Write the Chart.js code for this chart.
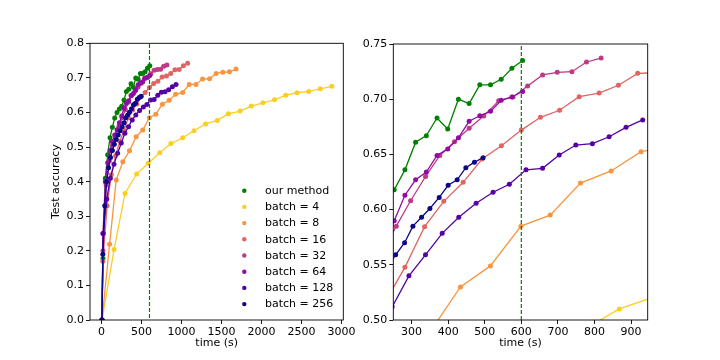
<!DOCTYPE html>
<html><head><meta charset="utf-8">
<script src="https://cdn.jsdelivr.net/npm/chart.js@4.4.1/dist/chart.umd.min.js"></script>
<style>
html,body{margin:0;padding:0;background:#fff;}
#wrap{position:relative;width:720px;height:360px;overflow:hidden;}
.box{position:absolute;top:0;width:360px;height:360px;}
</style></head><body>
<div id="wrap">
<div class="box" style="left:0"><canvas id="c1" width="360" height="360"></canvas></div>
<div class="box" style="left:360px"><canvas id="c2" width="360" height="360"></canvas></div>
</div>
<script>
// ---- data ----
const seriesLabels = ["our method", "batch = 4", "batch = 8", "batch = 16", "batch = 32", "batch = 64", "batch = 128", "batch = 256"];
const seriesColors = ["#008000", "#fcce25", "#f89540", "#e16462", "#bf3984", "#8f0da4", "#5402a3", "#0d0887"];

const oursTime = [6, 18.5, 47.8, 77, 106.3, 135.5, 164.8, 194, 223.3, 252.5, 281.8, 311, 340.3, 369.5, 398.8, 428, 457.3, 486.5, 515.8, 545, 574.3, 603.5];
const oursAcc  = [0, 0.178, 0.41, 0.478, 0.527, 0.557, 0.584, 0.600, 0.610, 0.618, 0.636, 0.661, 0.667, 0.683, 0.673, 0.700, 0.696, 0.713, 0.713, 0.718, 0.728, 0.735];

const b4Time = [6, 157, 294, 439, 584, 729, 868, 1015, 1156, 1301, 1447, 1587, 1733, 1873, 2019, 2164, 2305, 2445, 2591, 2736, 2880];
const b4Acc  = [0, 0.204, 0.366, 0.422, 0.453, 0.4835, 0.51, 0.527, 0.547, 0.567, 0.577, 0.596, 0.604, 0.6185, 0.628, 0.6367, 0.650, 0.657, 0.661, 0.6685, 0.6755];

const b8Time = [6, 101, 184, 267, 350, 433.6, 515.4, 599, 679, 761.7, 845.5, 927.3, 1015, 1098, 1181, 1264, 1351, 1434, 1517, 1600, 1683];
const b8Acc  = [0, 0.219, 0.405, 0.4575, 0.489, 0.530, 0.549, 0.585, 0.595, 0.624, 0.635, 0.6525, 0.658, 0.681, 0.681, 0.6965, 0.6975, 0.713, 0.716, 0.7177, 0.7254];

const b16Time = [6, 16.7, 69.7, 122.7, 175.7, 228.7, 281.7, 335.5, 388, 441, 492.8, 545.5, 600, 652.3, 704.6, 758.2, 812.7, 865.4, 918.2, 971, 1024, 1077];
const b16Acc  = [0, 0.17, 0.33, 0.42, 0.475, 0.517, 0.5477, 0.5845, 0.6075, 0.6247, 0.6458, 0.6579, 0.672, 0.6836, 0.690, 0.7023, 0.7056, 0.7126, 0.7234, 0.724, 0.735, 0.742];

const b32Time = [6, 18.2, 58.2, 98.2, 138.2, 178.2, 218.2, 258.2, 297.3, 338.2, 377.2, 417.3, 457.3, 497.2, 538.2, 577.3, 617.2, 658.2, 698.2, 738.3, 778.2, 818.2];
const b32Acc  = [0, 0.2, 0.39, 0.46, 0.505, 0.535, 0.56, 0.585, 0.608, 0.630, 0.649, 0.6615, 0.6736, 0.6848, 0.6986, 0.702, 0.712, 0.722, 0.7243, 0.7249, 0.7337, 0.7373];

const b64Time = [6, 18.5, 47.8, 77, 106.3, 135.5, 164.8, 194, 223.3, 252.5, 281.8, 311, 340.3, 369.5, 398.8, 428, 457.3, 486.5, 515.8, 545, 574.3, 603.5];
const b64Acc  = [0, 0.25, 0.40, 0.455, 0.49, 0.515, 0.535, 0.55, 0.57, 0.59, 0.613, 0.627, 0.634, 0.649, 0.655, 0.665, 0.680, 0.685, 0.689, 0.699, 0.702, 0.707];

const b128Time = [6, 19.6, 65, 110.6, 156, 201.6, 247, 292.7, 338, 383.7, 429, 476.4, 522.8, 567.3, 612.8, 658, 703.6, 749, 794.3, 840, 886.3, 931.8];
const b128Acc  = [0, 0.25, 0.35, 0.41, 0.45, 0.482, 0.512, 0.540, 0.559, 0.5785, 0.593, 0.6057, 0.6157, 0.6229, 0.636, 0.6374, 0.6495, 0.6585, 0.6597, 0.666, 0.6745, 0.6812];

const b256Time = [6, 16.4, 40.4, 64.4, 88.4, 112.4, 136.4, 160.4, 184.4, 208.4, 232.4, 256.4, 280.9, 303.6, 327.3, 350, 375.5, 400, 424.6, 448.3, 471.8, 495.5];
const b256Acc  = [0, 0.19, 0.33, 0.40, 0.44, 0.47, 0.49, 0.508, 0.522, 0.535, 0.547, 0.559, 0.570, 0.585, 0.593, 0.601, 0.611, 0.622, 0.627, 0.638, 0.643, 0.647];

const budgetTime = 600;
const leftXTicks = [0, 500, 1000, 1500, 2000, 2500, 3000];
const leftYTicks = [0, 0.1, 0.2, 0.3, 0.4, 0.5, 0.6, 0.7, 0.8];
const rightXTicks = [300, 400, 500, 600, 700, 800, 900];
const rightYTicks = [0.50, 0.55, 0.60, 0.65, 0.70, 0.75];

const allTimes = [oursTime, b4Time, b8Time, b16Time, b32Time, b64Time, b128Time, b256Time];
const allAccs  = [oursAcc, b4Acc, b8Acc, b16Acc, b32Acc, b64Acc, b128Acc, b256Acc];

// ---- chart setup ----
Chart.defaults.font.family = '"DejaVu Sans", sans-serif';
Chart.defaults.font.size = 11;
Chart.defaults.color = '#000';

function buildDatasets(yLo, yHi) {
  const ds = allTimes.map((ts, i) => ({
    label: seriesLabels[i],
    data: ts.map((t, j) => ({x: t, y: allAccs[i][j]})),
    showLine: true,
    borderColor: seriesColors[i],
    backgroundColor: seriesColors[i],
    borderWidth: 1.3,
    pointRadius: 2.5,
    pointBorderWidth: 0,
    pointHoverRadius: 2.5,
    tension: 0,
    clip: 0,
    order: 10 - i
  }));
  ds.push({
    label: 'budget',
    data: [{x: budgetTime, y: yLo}, {x: budgetTime, y: yHi}],
    showLine: true,
    borderColor: '#008000',
    borderWidth: 1.2,
    borderDash: [4, 2],
    pointRadius: 0,
    clip: 0,
    order: 0
  });
  return ds;
}

const framePlugin = {
  id: 'frame',
  afterDatasetsDraw(chart) {
    const a = chart.chartArea, ctx = chart.ctx;
    ctx.save();
    ctx.strokeStyle = '#000';
    ctx.lineWidth = 0.9;
    ctx.strokeRect(a.left, a.top, a.right - a.left, a.bottom - a.top);
    ctx.restore();
  }
};

const legendPlugin = {
  id: 'mplLegend',
  afterDraw(chart) {
    if (!chart.options.plugins.mplLegend || !chart.options.plugins.mplLegend.show) return;
    const ctx = chart.ctx;
    ctx.save();
    ctx.font = '11px "DejaVu Sans"';
    ctx.textBaseline = 'middle';
    ctx.textAlign = 'left';
    seriesLabels.forEach((lab, i) => {
      const y = 190.7 + i * 16.2;
      ctx.fillStyle = seriesColors[i];
      ctx.beginPath(); ctx.arc(244.3, y, 2.2, 0, Math.PI * 2); ctx.fill();
      ctx.fillStyle = '#000';
      ctx.fillText(lab, 265, y + 0.5);
    });
    ctx.restore();
  }
};

function makeChart(id, cfg) {
  return new Chart(document.getElementById(id), {
    type: 'scatter',
    data: {datasets: buildDatasets(cfg.yMin - 1, cfg.yMax + 1)},
    plugins: [framePlugin, legendPlugin],
    options: {
      responsive: false,
      animation: false,
      events: [],
      layout: {padding: cfg.padding},
      plugins: {legend: {display: false}, tooltip: {enabled: false}, mplLegend: {show: cfg.legend}},
      scales: {
        x: {
          type: 'linear', min: cfg.xMin, max: cfg.xMax,
          afterBuildTicks: (ax) => { ax.ticks = cfg.xTicks.map(v => ({value: v})); },
          afterFit: (ax) => { ax.height = 40; },
          ticks: {autoSkip: false, maxRotation: 0, padding: 2, callback: (v) => String(v)},
          grid: {display: true, drawOnChartArea: false, drawTicks: true, tickLength: 4, tickColor: '#000', lineWidth: 0.9},
          border: {display: false},
          title: {display: true, text: 'time (s)', padding: {top: 0, bottom: 10}}
        },
        y: {
          type: 'linear', min: cfg.yMin, max: cfg.yMax,
          afterBuildTicks: (ax) => { ax.ticks = cfg.yTicks.map(v => ({value: v})); },
          afterFit: (ax) => { ax.width = cfg.yWidth; },
          ticks: {autoSkip: false, padding: 2, callback: (v) => Number(v).toFixed(cfg.yDec)},
          grid: {display: true, drawOnChartArea: false, drawTicks: true, tickLength: 4, tickColor: '#000', lineWidth: 0.9},
          border: {display: false},
          title: {display: cfg.yTitle, text: 'Test accuracy', padding: {top: 50, bottom: 0}}
        }
      }
    }
  });
}

makeChart('c1', {
  xMin: -144, xMax: 3024, yMin: 0, yMax: 0.8,
  xTicks: leftXTicks, yTicks: leftYTicks, yDec: 1, yWidth: 90, yTitle: true, legend: true,
  padding: {top: 43.3, right: 16.7, bottom: 0, left: 0}
});
makeChart('c2', {
  xMin: 250, xMax: 945.5, yMin: 0.5, yMax: 0.75,
  xTicks: rightXTicks, yTicks: rightYTicks, yDec: 2, yWidth: 33.3, yTitle: false, legend: false,
  padding: {top: 44, right: 72.3, bottom: 0, left: 0}
});
</script>
</body></html>
